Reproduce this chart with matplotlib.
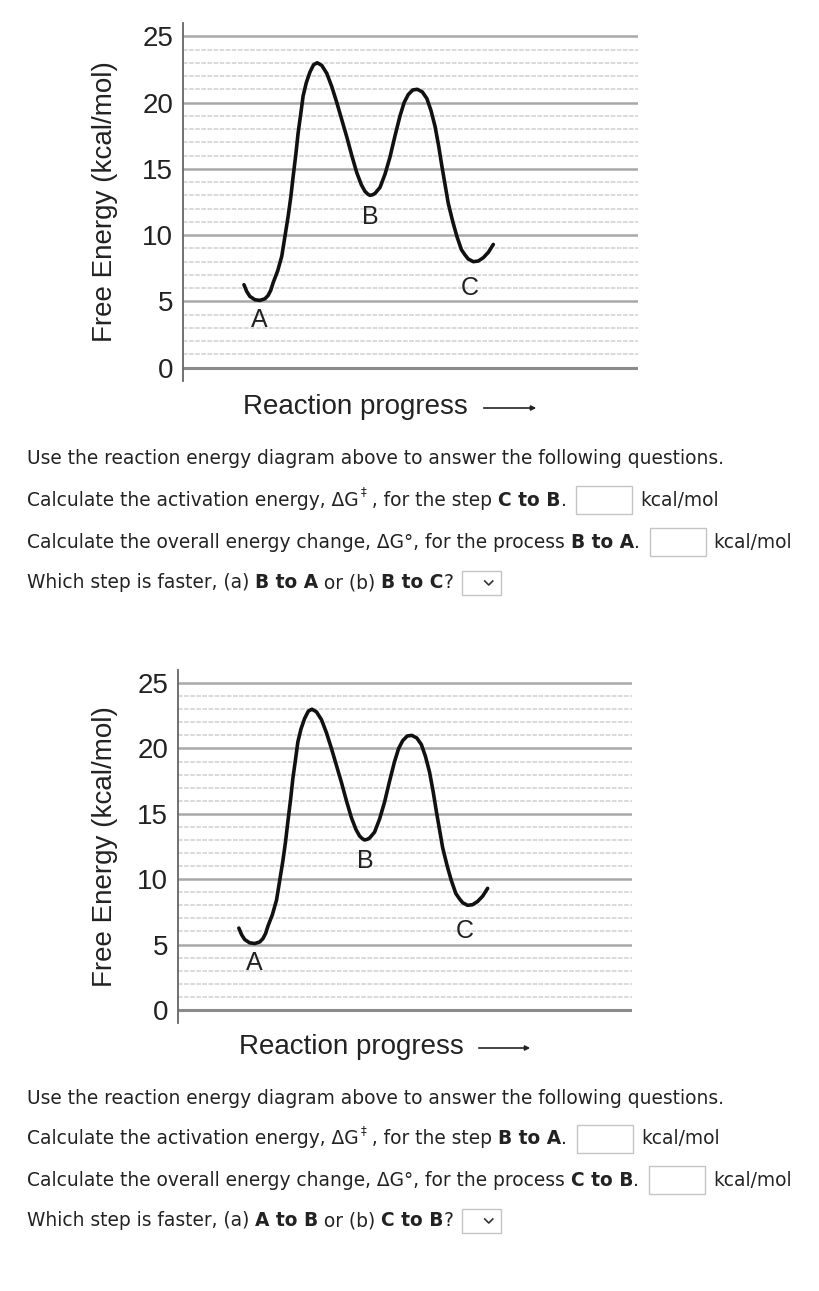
import matplotlib.pyplot as plt
from matplotlib.patches import Rectangle, FancyArrowPatch
from matplotlib.lines import Line2D
from matplotlib.font_manager import FontProperties

# energy profile (both panels show the same diagram)
progress = [1.34, 1.40, 1.47, 1.58, 1.69, 1.80, 1.87, 1.93, 1.98, 2.08, 2.17, 2.24, 2.31, 2.37,
            2.42, 2.48, 2.53, 2.59, 2.64, 2.71, 2.79, 2.87, 2.95, 3.05, 3.16, 3.27, 3.38,
            3.49, 3.60, 3.71, 3.82, 3.92, 4.00, 4.06, 4.11, 4.17, 4.22, 4.33, 4.44, 4.55,
            4.66, 4.77, 4.86, 4.95, 5.05, 5.15, 5.26, 5.36, 5.45, 5.54, 5.62, 5.69, 5.76,
            5.83, 5.93, 6.02, 6.12, 6.20, 6.27, 6.38, 6.49, 6.60, 6.71, 6.82]
energy = [6.26, 5.76, 5.38, 5.13, 5.08, 5.2, 5.45, 5.85, 6.4, 7.3, 8.4, 9.9, 11.4, 12.9,
          14.4, 16.1, 17.7, 19.2, 20.5, 21.5, 22.3, 22.85, 23.0, 22.8, 22.2, 21.2, 20.0,
          18.7, 17.4, 16.0, 14.7, 13.8, 13.3, 13.1, 13.0, 13.05, 13.15, 13.6, 14.6, 15.9,
          17.5, 19.0, 20.0, 20.6, 20.95, 21.0, 20.8, 20.3, 19.4, 18.2, 16.7, 15.2, 13.8,
          12.4, 11.0, 9.9, 8.9, 8.5, 8.2, 8.0, 8.05, 8.3, 8.7, 9.3]
point_names = ["A", "B", "C"]
point_x = [1.67, 4.12, 6.31]
point_y = [3.6, 11.4, 6.0]
yticks = [0, 5, 10, 15, 20, 25]

q_top = [
    [("Use the reaction energy diagram above to answer the following questions.", False)],
    [("Calculate the activation energy, ΔG", False), ("‡", "sup"), (" , for the step ", False),
     ("C to B", True), (".", False), ("BOX", None), ("kcal/mol", False)],
    [("Calculate the overall energy change, ΔG°, for the process ", False), ("B to A", True),
     (".", False), ("BOX", None), ("kcal/mol", False)],
    [("Which step is faster, (a) ", False), ("B to A", True), (" or (b) ", False),
     ("B to C", True), ("?", False), ("DROP", None)],
]
q_bottom = [
    [("Use the reaction energy diagram above to answer the following questions.", False)],
    [("Calculate the activation energy, ΔG", False), ("‡", "sup"), (" , for the step ", False),
     ("B to A", True), (".", False), ("BOX", None), ("kcal/mol", False)],
    [("Calculate the overall energy change, ΔG°, for the process ", False), ("C to B", True),
     (".", False), ("BOX", None), ("kcal/mol", False)],
    [("Which step is faster, (a) ", False), ("A to B", True), (" or (b) ", False),
     ("C to B", True), ("?", False), ("DROP", None)],
]

W, H = 820, 1291
fig = plt.figure(figsize=(8.2, 12.91), dpi=100)
fig.patch.set_facecolor("white")
renderer = fig.canvas.get_renderer()
CHART_FONT = "Liberation Sans"
TEXT_FONT = "DejaVu Sans"
TEXT_SIZE = 13.45


def fx(x):
    return x / W


def fy(y):
    return 1 - y / H


def text_width(s, size, bold):
    prop = FontProperties(family=TEXT_FONT, size=size, weight="bold" if bold else "normal")
    w1 = renderer.get_text_width_height_descent("|" + s + "|", prop, ismath=False)[0]
    w0 = renderer.get_text_width_height_descent("||", prop, ismath=False)[0]
    return w1 - w0


def draw_chart(left, right, top_px, bottom_px):
    ax = fig.add_axes([fx(left), fy(bottom_px), (right - left) / W, (bottom_px - top_px) / H])
    ax.set_xlim(0, 10)
    ax.set_ylim(-1, 26)
    for v in range(0, 26):
        if v == 0:
            ax.axhline(v, color="#8a8a8a", lw=2.2, zorder=1)
        elif v % 5 == 0:
            ax.axhline(v, color="#a8a8a8", lw=1.8, zorder=1)
        else:
            ax.axhline(v, color="#cfcfcf", lw=1.1, ls=(0, (3, 1)), zorder=1)
    ax.plot(progress, energy, color="#111111", lw=2.6, solid_joinstyle="round",
            solid_capstyle="round", zorder=3)
    for name, x, y in zip(point_names, point_x, point_y):
        ax.text(x, y, name, ha="center", va="center", fontsize=18, family=CHART_FONT,
                color="#222222")
    for s in ["top", "right", "bottom"]:
        ax.spines[s].set_visible(False)
    ax.spines["left"].set_color("#666666")
    ax.spines["left"].set_linewidth(1.3)
    ax.set_xticks([])
    ax.set_yticks(yticks)
    ax.tick_params(axis="y", length=0, pad=7, labelsize=20, labelcolor="#222222")
    for lab in ax.get_yticklabels():
        lab.set_family(CHART_FONT)
    ax.set_ylabel("Free Energy (kcal/mol)", fontsize=20, family=CHART_FONT, color="#222222",
                  va="center")
    ax.yaxis.set_label_coords((105 - left) / (right - left), 0.5)
    return ax


def draw_xlabel(cx, y, arrow_from, arrow_to):
    fig.text(fx(cx), fy(y), "Reaction progress", ha="center", va="center", fontsize=20,
             family=CHART_FONT, color="#222222")
    fig.add_artist(FancyArrowPatch((fx(arrow_from), fy(y + 1)), (fx(arrow_to), fy(y + 1)),
                                   transform=fig.transFigure, arrowstyle="-|>",
                                   mutation_scale=7, lw=1.2, color="#222222"))


def draw_questions(lines, x0, ys):
    for runs, y in zip(lines, ys):
        x = x0
        for s, kind in runs:
            if s == "BOX":
                x += 10
                fig.add_artist(Rectangle((fx(x), fy(y + 14)), 56 / W, 28 / H,
                                         transform=fig.transFigure, fc="white",
                                         ec="#c4c4c4", lw=1.0))
                x += 56 + 8
                continue
            if s == "DROP":
                x += 8
                fig.add_artist(Rectangle((fx(x), fy(y + 12)), 39 / W, 24 / H,
                                         transform=fig.transFigure, fc="white",
                                         ec="#c4c4c4", lw=1.0))
                cx = x + 27
                fig.add_artist(Line2D([fx(cx - 4), fx(cx), fx(cx + 4)],
                                      [fy(y - 2), fy(y + 2), fy(y - 2)],
                                      transform=fig.transFigure, color="#333333", lw=1.2))
                x += 39
                continue
            if kind == "sup":
                fig.text(fx(x + 2), fy(y - 8), s, fontsize=8.5, family=TEXT_FONT,
                         color="#222222", va="center", ha="left")
                x += text_width(s, 8.5, False) + 2
                continue
            bold = kind is True
            fig.text(fx(x), fy(y), s, fontsize=TEXT_SIZE, family=TEXT_FONT,
                     fontweight="bold" if bold else "normal", color="#222222",
                     va="center", ha="left")
            x += text_width(s, TEXT_SIZE, bold)


# top panel
draw_chart(183, 638, 23, 381)
draw_xlabel(355, 407, 481, 539)
draw_questions(q_top, 27, [459, 500, 542, 583])

# bottom panel
draw_chart(178, 632, 670, 1023)
draw_xlabel(351, 1047, 476, 533)
draw_questions(q_bottom, 27, [1098, 1139, 1180, 1221])

fig.savefig("out.png", dpi=100, facecolor="white")
